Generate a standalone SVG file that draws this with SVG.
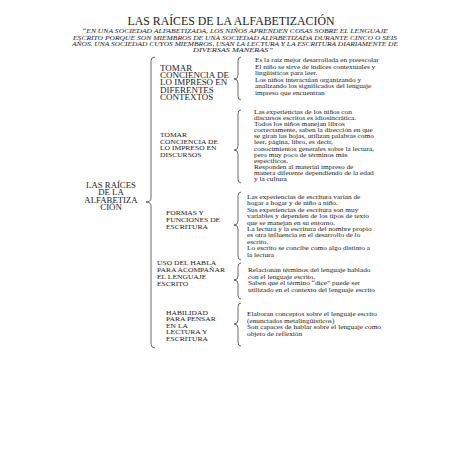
<svg xmlns="http://www.w3.org/2000/svg" width="452" height="452" viewBox="0 0 452 452">
<style>
text{font-family:"Liberation Serif","Times New Roman",serif;fill:#222}
.t{font-size:11.8px}
.s{font-size:6.4px;font-style:italic}
.r{font-size:7.3px}
.c1{font-size:7.2px}
.c{font-size:6.3px}
.d{font-size:6.1px}
.b{fill:none;stroke:#444;stroke-width:0.8}
</style>
<rect width="452" height="452" fill="#fff"/>
<g id="title" text-anchor="middle">
<text class="t" x="231" y="24.6">LAS RAÍCES DE LA ALFABETIZACIÓN</text>
<text class="s" x="235" y="33.4" textLength="306" lengthAdjust="spacingAndGlyphs">“EN UNA SOCIEDAD ALFABETIZADA, LOS NIÑOS APRENDEN COSAS SOBRE EL LENGUAJE</text>
<text class="s" x="235" y="39.7" textLength="324" lengthAdjust="spacingAndGlyphs">ESCRITO PORQUE SON MIEMBROS DE UNA SOCIEDAD ALFABETIZADA DURANTE CINCO O SEIS</text>
<text class="s" x="235" y="46" textLength="326" lengthAdjust="spacingAndGlyphs">AÑOS. UNA SOCIEDAD CUYOS MIEMBROS, USAN LA LECTURA Y LA ESCRITURA DIARIAMENTE DE</text>
<text class="s" x="233" y="52.3" textLength="80" lengthAdjust="spacingAndGlyphs">DIVERSAS MANERAS”</text>
</g>
<g id="connectors">
<path class="b" d="M155,57 Q151,57 151,61 L151,198 Q151,202 146,202 Q151,202 151,206 L151,344 Q151,348 155,348"/>
<path class="b" d="M241,57 Q238,57 238,61 L238,75 Q238,79 234,79 Q238,79 238,83 L238,96 Q238,100 241,100"/>
<path class="b" d="M241,110 Q238,110 238,114 L238,146 Q238,150 234,150 Q238,150 238,154 L238,179 Q238,183 241,183"/>
<path class="b" d="M241,192 Q238,192 238,196 L238,221 Q238,225 234,225 Q238,225 238,229 L238,256 Q238,260 241,260"/>
<path class="b" d="M241,263 Q238,263 238,267 L238,276 Q238,280 234,280 Q238,280 238,284 L238,295 Q238,299 241,299"/>
<path class="b" d="M241,303 Q238,303 238,307 L238,320 Q238,324 234,324 Q238,324 238,328 L238,342 Q238,346 241,346"/>
</g>
<g id="root" text-anchor="middle" transform="translate(111,0) scale(1.2,1)">
<text class="r" x="0" y="188">LAS RAÍCES</text>
<text class="r" x="0" y="195.3">DE LA</text>
<text class="r" x="0" y="202.6">ALFABETIZA</text>
<text class="r" x="0" y="209.9">CIÓN</text>
</g>
<g id="cat1" transform="translate(160,0) scale(1.25,1)">
<text class="c1" x="0" y="71">TOMAR</text>
<text class="c1" x="0" y="78.2">CONCIENCIA DE</text>
<text class="c1" x="0" y="85.4">LO IMPRESO EN</text>
<text class="c1" x="0" y="92.6">DIFERENTES</text>
<text class="c1" x="0" y="99.8">CONTEXTOS</text>
</g>
<g id="det1" transform="translate(255,0) scale(1.2,1)">
<text class="d" x="0" y="62">Es la raíz mejor desarrollada en preescolar</text>
<text class="d" x="0" y="68.6">El niño se sirve de índices contextuales y</text>
<text class="d" x="0" y="75.2">lingüísticos para leer.</text>
<text class="d" x="0" y="81.8">Los niños interactúan organizando y</text>
<text class="d" x="0" y="88.4">analizando los significados del lenguaje</text>
<text class="d" x="0" y="95">impreso que encuentran</text>
</g>
<g id="cat2" transform="translate(160,0) scale(1.2,1)">
<text class="c" x="0" y="137">TOMAR</text>
<text class="c" x="0" y="143.7">CONCIENCIA DE</text>
<text class="c" x="0" y="150.4">LO IMPRESO EN</text>
<text class="c" x="0" y="157.1">DISCURSOS</text>
</g>
<g id="det2" transform="translate(254,0) scale(1.2,1)">
<text class="d" x="0" y="114">Las experiencias de los niños con</text>
<text class="d" x="0" y="120.1">discursos escritos es idiosincrática.</text>
<text class="d" x="0" y="126.2">Todos los niños manejan libros</text>
<text class="d" x="0" y="132.3">correctamente, saben la dirección en que</text>
<text class="d" x="0" y="138.4">se giran las hojas, utilizan palabras como</text>
<text class="d" x="0" y="144.5">leer, página, libro, es decir,</text>
<text class="d" x="0" y="150.6">conocimientos generales sobre la lectura,</text>
<text class="d" x="0" y="156.7">pero muy  poco de términos más</text>
<text class="d" x="0" y="162.8">específicos.</text>
<text class="d" x="0" y="168.9">Responden al material impreso de</text>
<text class="d" x="0" y="175">manera diferente dependiendo de la edad</text>
<text class="d" x="0" y="181.1">y la cultura</text>
</g>
<g id="cat3" transform="translate(166,0) scale(1.2,1)">
<text class="c" x="0" y="215">FORMAS Y</text>
<text class="c" x="0" y="222">FUNCIONES DE</text>
<text class="c" x="0" y="229">ESCRITURA</text>
</g>
<g id="det3" transform="translate(247,0) scale(1.2,1)">
<text class="d" x="0" y="199">Las experiencias de escritura varían de</text>
<text class="d" x="0" y="205.4">hogar a hogar y de niño a niño.</text>
<text class="d" x="0" y="211.8">Sus experiencias de escritura son muy</text>
<text class="d" x="0" y="218.2">variables y dependen de los tipos de texto</text>
<text class="d" x="0" y="224.6">que se manejan en su entorno.</text>
<text class="d" x="0" y="231">La lectura y la escritura del nombre propio</text>
<text class="d" x="0" y="237.4">es otra influencia en el desarrollo de lo</text>
<text class="d" x="0" y="243.8">escrito.</text>
<text class="d" x="0" y="250.2">Lo escrito se concibe como algo distinto a</text>
<text class="d" x="0" y="256.6">la lectura</text>
</g>
<g id="cat4" transform="translate(157,0) scale(1.2,1)">
<text class="c" x="0" y="265">USO DEL HABLA</text>
<text class="c" x="0" y="272">PARA ACOMPAÑAR</text>
<text class="c" x="0" y="279">EL LENGUAJE</text>
<text class="c" x="0" y="286">ESCRITO</text>
</g>
<g id="det4" transform="translate(248,0) scale(1.2,1)">
<text class="d" x="0" y="272">Relacionan términos del lenguaje hablado</text>
<text class="d" x="0" y="278.6">con el lenguaje escrito.</text>
<text class="d" x="0" y="285.2">Saben que el término “dice” puede ser</text>
<text class="d" x="0" y="291.8">utilizado en el contexto del lenguaje escrito</text>
</g>
<g id="cat5" transform="translate(166,0) scale(1.2,1)">
<text class="c" x="0" y="315">HABILIDAD</text>
<text class="c" x="0" y="321.5">PARA PENSAR</text>
<text class="c" x="0" y="328">EN LA</text>
<text class="c" x="0" y="334.5">LECTURA Y</text>
<text class="c" x="0" y="341">ESCRITURA</text>
</g>
<g id="det5" transform="translate(247,0) scale(1.2,1)">
<text class="d" x="0" y="316">Elaboran conceptos sobre el lenguaje escrito</text>
<text class="d" x="0" y="322.6">(enunciados metalingüísticos)</text>
<text class="d" x="0" y="329.2">Son capaces de hablar sobre el lenguaje como</text>
<text class="d" x="0" y="335.8">objeto de reflexión</text>
</g>
</svg>
